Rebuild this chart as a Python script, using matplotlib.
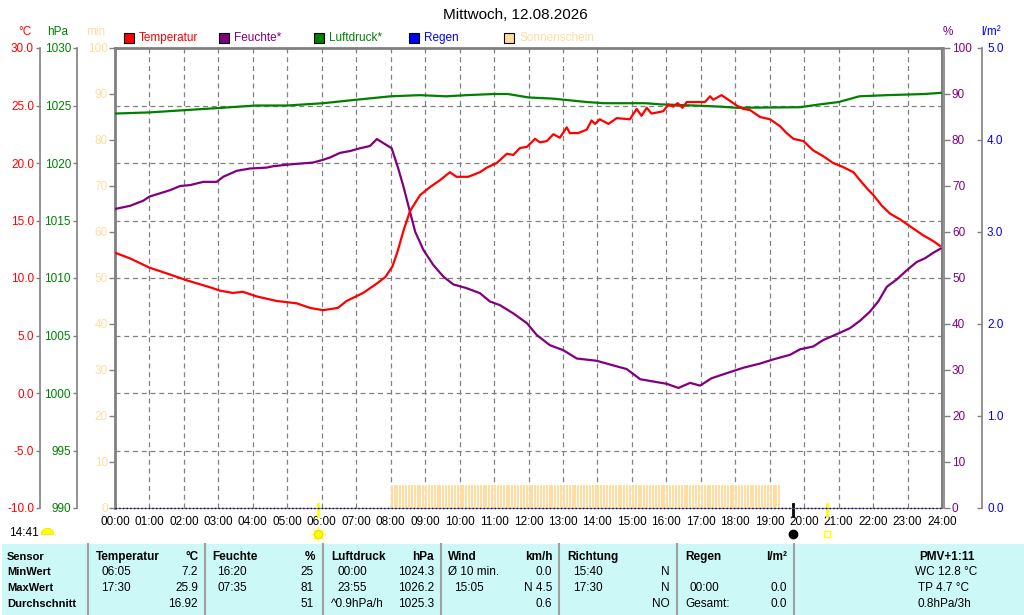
import numpy as np
import matplotlib.pyplot as plt
from matplotlib import transforms
from matplotlib.patches import Rectangle
from matplotlib.path import Path

plt.rcParams['font.family'] = ['Liberation Sans', 'DejaVu Sans']

# ---- data (hours since 00:00) ----
temp_h = [0.0, 0.44, 1.0, 1.6, 2.08, 2.75, 3.05, 3.42, 3.71, 4.11, 4.4, 4.69, 5.27, 5.66,
          6.04, 6.47, 6.72, 7.2, 7.59, 7.85, 8.05, 8.2, 8.37, 8.56, 8.85, 9.14, 9.43, 9.72,
          9.91, 10.25, 10.59, 10.79, 11.08, 11.37, 11.56, 11.75, 11.95, 12.19, 12.33, 12.53,
          12.72, 12.91, 13.11, 13.2, 13.44, 13.69, 13.83, 13.93, 14.07, 14.32, 14.56, 14.94,
          15.14, 15.28, 15.43, 15.57, 15.91, 16.06, 16.2, 16.33, 16.47, 16.59, 17.12, 17.27,
          17.36, 17.6, 17.85, 18.04, 18.24, 18.43, 18.72, 19.01, 19.3, 19.49, 19.69, 19.98,
          20.26, 20.55, 20.84, 21.09, 21.43, 21.62, 21.82, 22.01, 22.25, 22.49, 22.78, 23.07,
          23.46, 23.75, 23.94]
temp_c = [12.2, 11.7, 10.9, 10.3, 9.8, 9.2, 8.9, 8.7, 8.8, 8.4, 8.2, 8.0, 7.8, 7.4,
          7.2, 7.4, 8.0, 8.7, 9.5, 10.1, 11.0, 12.3, 14.1, 15.8, 17.2, 17.9, 18.5, 19.2,
          18.8, 18.8, 19.2, 19.6, 20.0, 20.8, 20.7, 21.3, 21.4, 22.1, 21.8, 21.9,
          22.5, 22.2, 23.1, 22.6, 22.6, 22.9, 23.7, 23.4, 23.8, 23.4, 23.9, 23.8,
          24.7, 24.1, 24.8, 24.3, 24.5, 25.1, 24.9, 25.2, 24.8, 25.3, 25.3, 25.8,
          25.5, 25.9, 25.4, 25.0, 24.7, 24.6, 24.0, 23.8, 23.2, 22.6, 22.1, 21.9,
          21.1, 20.6, 20.0, 19.7, 19.2, 18.5, 17.8, 17.2, 16.3, 15.6, 15.1, 14.5,
          13.7, 13.2, 12.8]

hum_h = [0.0, 0.44, 0.82, 1.0, 1.6, 1.89, 2.18, 2.56, 2.95, 3.14, 3.53, 3.92, 4.4, 4.59,
         5.08, 5.75, 6.04, 6.24, 6.53, 6.82, 7.11, 7.4, 7.6, 7.88, 8.03, 8.22, 8.37, 8.56,
         8.71, 8.95, 9.24, 9.53, 9.82, 10.2, 10.59, 10.88, 11.17, 11.56, 11.95, 12.24,
         12.62, 13.01, 13.4, 13.98, 14.46, 14.85, 15.24, 15.62, 16.01, 16.35, 16.69, 16.98,
         17.31, 17.75, 18.24, 18.72, 19.1, 19.59, 19.88, 20.26, 20.55, 21.04, 21.33, 21.62,
         21.91, 22.15, 22.4, 22.69, 22.98, 23.27, 23.51, 23.75, 23.96]
hum_pct = [65.0, 65.7, 66.8, 67.7, 69.1, 70.0, 70.2, 70.9, 70.9, 72.0, 73.3, 73.8, 74.0, 74.3,
           74.7, 75.1, 75.7, 76.2, 77.2, 77.6, 78.2, 78.7, 80.2, 78.9, 78.2, 73.8, 69.9, 64.4,
           60.1, 56.1, 52.8, 50.3, 48.6, 47.8, 46.7, 44.9, 44.1, 42.3, 40.2, 37.6,
           35.4, 34.3, 32.5, 32.0, 31.0, 30.2, 28.0, 27.5, 27.0, 26.1, 27.2, 26.6,
           28.2, 29.3, 30.5, 31.4, 32.3, 33.3, 34.5, 35.1, 36.5, 38.1, 39.1, 40.7,
           42.7, 44.9, 48.1, 49.7, 51.7, 53.5, 54.3, 55.5, 56.4]

pres_h = [0.0, 1.0, 2.05, 3.1, 4.1, 5.0, 6.04, 7.0, 8.0, 8.85, 9.6, 10.2, 11.0, 11.4, 12.0,
          12.7, 13.7, 14.2, 15.4, 15.82, 16.8, 17.57, 18.04, 19.88, 20.46, 21.0, 21.6, 22.4,
          23.5, 23.96]
pres_hpa = [1024.3, 1024.4, 1024.6, 1024.8, 1025.0, 1025.0, 1025.2, 1025.5, 1025.8, 1025.9,
            1025.8, 1025.9, 1026.0, 1026.0, 1025.7, 1025.6, 1025.3, 1025.2, 1025.2, 1025.1,
            1025.0, 1024.9, 1024.8, 1024.85, 1025.1, 1025.3, 1025.8, 1025.9, 1026.0, 1026.1]

rain_h = [0.0, 24.0]
rain_mm = [0.0, 0.0]

# sunshine: full 5 min in every 5-minute slot from 08:00 to 19:20
sun_times = np.arange(8 * 12, 19 * 12 + 4) / 12.0
sun_minutes = [5] * len(sun_times)

sunrise_h = 5.89
moon_h = 19.67
sunset_h = 20.65

hour_labels = ["%02d:00" % h for h in range(25)]
temp_ticks = list(range(-10, 31, 5))
pres_ticks = list(range(990, 1031, 5))
pct_ticks = list(range(0, 101, 10))
rain_ticks = [0, 1, 2, 3, 4, 5]

RED, PURPLE, GREEN, BLUE = '#ff0000', '#800080', '#008000', '#0000ff'
SUN = '#ffdca0'
GRAY = '#808080'
FS = 8.5

W, H = 1024, 615
fig = plt.figure(figsize=(W / 100, H / 100), dpi=100)


def fx(px):
    return px / W


def fy(py):
    return 1 - py / H


def pt(px):
    return px * 0.72


L, R, T, B = 115, 942, 48, 508
ax = fig.add_axes([fx(L), fy(B), fx(R - L), (B - T) / H])

# temperature axis (main)
ax.set_xlim(0, 24)
ax.set_ylim(-10, 30)
ax.set_xticks(range(25))
ax.set_xticklabels(hour_labels)
ax.set_yticks(temp_ticks)
ax.set_yticklabels(["%.1f" % v for v in temp_ticks])
ax.tick_params(axis='x', length=0, pad=pt(8), labelsize=FS, labelcolor='black')
ax.tick_params(axis='y', direction='out', length=pt(4), width=1, color=GRAY,
               pad=pt(2), labelsize=FS, labelcolor=RED)
ax.spines['left'].set_position(('outward', pt(L - 40)))
ax.spines['left'].set_color(GRAY)
ax.spines['left'].set_linewidth(1.2)
ax.spines['top'].set_color(GRAY)
ax.spines['top'].set_linewidth(2)
ax.spines['right'].set_color(GRAY)
ax.spines['right'].set_linewidth(1.5)
ax.spines['bottom'].set_color(GRAY)
ax.spines['bottom'].set_linewidth(0.8)
ax.grid(True, color=GRAY, ls=(0, (4, 3)), lw=0.9)


def twin(side, outward, lw):
    t = ax.twinx()
    if side == 'left':
        t.yaxis.tick_left()
        t.yaxis.set_label_position('left')
    for s in ['left', 'right', 'top', 'bottom']:
        t.spines[s].set_visible(False)
    t.spines[side].set_visible(True)
    t.spines[side].set_position(('outward', pt(outward)))
    t.spines[side].set_color(GRAY)
    t.spines[side].set_linewidth(lw)
    return t


# minutes of sunshine (frame left)
ax_m = twin('left', 0, 2)
ax_m.set_ylim(0, 100)
ax_m.set_yticks(pct_ticks)
ax_m.tick_params(axis='y', direction='out', length=pt(6), width=1, color=GRAY,
                 pad=pt(1), labelsize=FS, labelcolor=SUN)
ax_m.bar(sun_times, sun_minutes, width=0.7 / 12, align='edge', color=SUN, lw=0)

# rain
ax_r = twin('right', 40, 1.2)
ax_r.set_ylim(0, 5)
ax_r.set_yticks(rain_ticks)
ax_r.set_yticklabels(["%.1f" % v for v in rain_ticks])
ax_r.tick_params(axis='y', direction='in', length=pt(5), width=1, color=GRAY,
                 pad=pt(5), labelsize=FS, labelcolor=BLUE)
ax_r.plot(rain_h, rain_mm, color='#000080', ls=':', lw=1, clip_on=False)

# pressure
ax_p = twin('left', L - 77, 1.2)
ax_p.set_ylim(990, 1030)
ax_p.set_yticks(pres_ticks)
ax_p.tick_params(axis='y', direction='out', length=pt(4), width=1, color=GRAY,
                 pad=pt(2), labelsize=FS, labelcolor=GREEN)
ax_p.plot(pres_h, pres_hpa, color=GREEN, lw=1.6)

# humidity
ax_h = twin('right', 2, 1.2)
ax_h.set_ylim(0, 100)
ax_h.set_yticks(pct_ticks)
ax_h.tick_params(axis='y', direction='out', length=pt(6), width=1, color=GRAY,
                 pad=pt(2), labelsize=FS, labelcolor=PURPLE)
ax_h.plot(hum_h, hum_pct, color=PURPLE, lw=1.6)

# temperature line on top
ax_t = ax.twinx()
ax_t.set_ylim(-10, 30)
ax_t.axis('off')
ax_t.plot(temp_h, temp_c, color=RED, lw=1.6)

# ---- header texts ----
fig.text(fx(515), fy(15), "Mittwoch, 12.08.2026", ha='center', va='center', size=11)
for x, s, c in [(25, "°C", RED), (58, "hPa", GREEN), (96, "min", SUN),
                (948, "%", PURPLE), (991, "l/m²", BLUE)]:
    fig.text(fx(x), fy(32), s, ha='center', va='center', size=FS, color=c)

legend = [(124, "Temperatur", RED), (219, "Feuchte*", PURPLE),
          (314, "Luftdruck*", GREEN), (409, "Regen", BLUE),
          (504, "Sonnenschein", SUN)]
for x, s, c in legend:
    fig.patches.append(Rectangle((fx(x), fy(43)), 10 / W, 10 / H, transform=fig.transFigure,
                                 facecolor=c, edgecolor='black', lw=0.8))
    fig.text(fx(x + 15), fy(38), s, ha='left', va='center', size=FS, color=c)

# ---- sun / moon markers under the time axis ----
blend = transforms.blended_transform_factory(ax.transData, fig.transFigure)
for h, c in [(sunrise_h, '#ffff00'), (moon_h, 'black'), (sunset_h, '#ffff00')]:
    ax.plot([h, h], [fy(504), fy(516)], transform=blend, color=c, lw=2, clip_on=False)
ax.plot([sunrise_h], [fy(534)], transform=blend, marker=(8, 2, 0), ms=11, color='#ffff70',
        mew=1, clip_on=False)
ax.plot([sunrise_h], [fy(534)], transform=blend, marker='o', ms=6, color='#ffff00',
        mec='#f0e000', clip_on=False)
ax.plot([moon_h], [fy(534)], transform=blend, marker='o', ms=6, color='black', clip_on=False)
ax.plot([sunset_h], [fy(534)], transform=blend, marker='s', ms=4, mfc='white',
        mec='#ffff00', mew=1, clip_on=False)

fig.text(fx(9), fy(533), "14:41", ha='left', va='center', size=FS)
theta = np.linspace(0, np.pi, 20)
half = Path(np.column_stack([np.cos(theta), np.sin(theta)]).tolist() + [[1.0, 0.0]], closed=True)
fig.add_artist(plt.Line2D([fx(47)], [fy(534)], marker=half, ms=9, color='#ffff00',
                          mec='#e8e000', mew=0.5, transform=fig.transFigure))

# ---- data table ----
fig.patches.append(Rectangle((fx(2), 0), (W - 2) / W, (615 - 544) / H,
                             transform=fig.transFigure, facecolor='#ccf8f8', lw=0))
for x in [88, 205, 323, 441, 559, 677, 794]:
    fig.add_artist(plt.Line2D([fx(x), fx(x)], [0, fy(544)], color='#a0a0a0', lw=1.5,
                              transform=fig.transFigure))

row_y = [557, 572, 588, 604]


def cell(x, r, s, ha='left', bold=False, size=FS):
    fig.text(fx(x), fy(row_y[r]), s, ha=ha, va='center', size=size,
             weight='bold' if bold else 'normal')


for r, s in enumerate(["Sensor", "MinWert", "MaxWert", "Durchschnitt"]):
    cell(7, r, s, bold=True, size=8)

cell(96, 0, "Temperatur", bold=True)
cell(199, 0, "°C", ha='right', bold=True)
cell(101, 1, "06:05"); cell(198, 1, "7.2", ha='right')
cell(101, 2, "17:30"); cell(198, 2, "25.9", ha='right')
cell(198, 3, "16.92", ha='right')

cell(212, 0, "Feuchte", bold=True)
cell(315, 0, "%", ha='right', bold=True)
cell(217, 1, "16:20"); cell(314, 1, "25", ha='right')
cell(217, 2, "07:35"); cell(314, 2, "81", ha='right')
cell(314, 3, "51", ha='right')

cell(331, 0, "Luftdruck", bold=True)
cell(434, 0, "hPa", ha='right', bold=True)
cell(337, 1, "00:00"); cell(434, 1, "1024.3", ha='right')
cell(337, 2, "23:55"); cell(434, 2, "1026.2", ha='right')
cell(331, 3, "^0.9hPa/h"); cell(434, 3, "1025.3", ha='right')

cell(448, 0, "Wind", bold=True)
cell(553, 0, "km/h", ha='right', bold=True)
cell(448, 1, "Ø 10 min."); cell(552, 1, "0.0", ha='right')
cell(454, 2, "15:05"); cell(552, 2, "N 4.5", ha='right')
cell(552, 3, "0.6", ha='right')

cell(567, 0, "Richtung", bold=True)
cell(573, 1, "15:40"); cell(670, 1, "N", ha='right')
cell(573, 2, "17:30"); cell(670, 2, "N", ha='right')
cell(670, 3, "NO", ha='right')

cell(685, 0, "Regen", bold=True)
cell(787, 0, "l/m²", ha='right', bold=True)
cell(690, 2, "00:00"); cell(787, 2, "0.0", ha='right')
cell(685, 3, "Gesamt:"); cell(787, 3, "0.0", ha='right')

cell(975, 0, "PMV+1:11", ha='right', bold=True)
cell(946, 1, "WC 12.8 °C", ha='center')
cell(944, 2, "TP 4.7 °C", ha='center')
cell(944, 3, "0.8hPa/3h", ha='center')

fig.savefig("out.png", dpi=100)
